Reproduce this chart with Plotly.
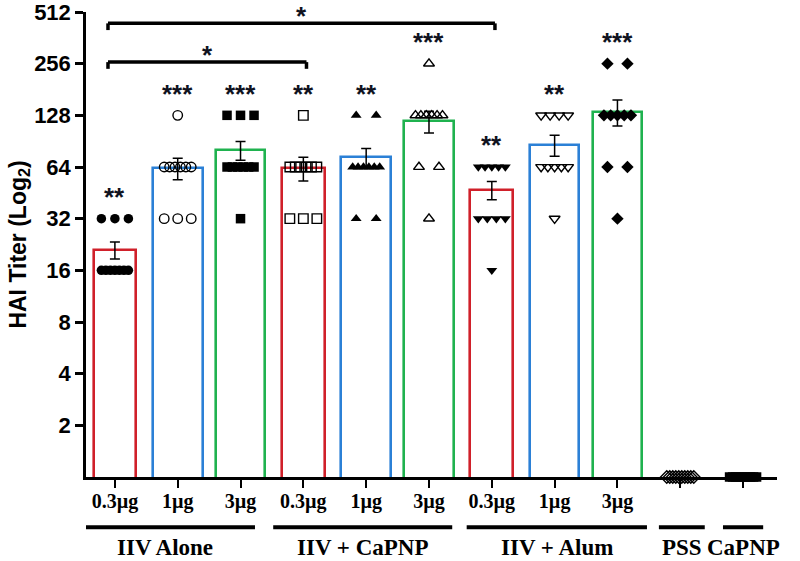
import math
import plotly.graph_objects as go

# doses shown under each bar (PSS / CaPNP have no dose label)
dose_labels = ["0.3µg", "1µg", "3µg", "0.3µg", "1µg", "3µg", "0.3µg", "1µg", "3µg", "", ""]
group_names = ["IIV Alone", "IIV + CaPNP", "IIV + Alum", "PSS", "CaPNP"]

# bar means and SEM, only the 9 vaccine groups have bars
mean_titer = [21, 63, 80, 63, 73, 118, 47, 86, 134]
sem_titer = [2.4, 9, 10, 10, 9, 17, 5.7, 12, 23]
sig_marks = ["**", "***", "***", "**", "**", "***", "**", "**", "***"]

# individual animal titers per column
titers = [
    [32] * 3 + [16] * 7,
    [128] + [64] * 6 + [32] * 3,
    [128] * 3 + [64] * 6 + [32],
    [128] + [64] * 6 + [32] * 3,
    [128] * 2 + [64] * 6 + [32] * 2,
    [256] + [128] * 6 + [64] * 2 + [32],
    [64] * 5 + [32] * 4 + [16],
    [128] * 4 + [64] * 5 + [32],
    [256] * 2 + [128] * 5 + [64] * 2 + [32],
    [1] * 10,
    [1] * 10,
]

# pairwise comparisons: (column a, column b, label, bracket height in log2 units)
comparisons = [(0, 3, "*", 8.03), (0, 6, "*", 8.78)]

# ---- styles ----
red, blue, green = "#d0202a", "#2b80d6", "#1fb24f"
bar_colors = [red, blue, green] * 3
bar_widths = [0.68, 0.79, 0.79] * 3
symbols = ["circle", "circle-open", "square", "square-open", "triangle-up",
           "triangle-up-open", "triangle-down", "triangle-down-open", "diamond",
           "diamond-open", "square"]
px_per_unit = 62.8
star_font = dict(family="Liberation Sans", size=26, color="#10131f")

fig = go.Figure()

fig.add_trace(go.Bar(
    x=list(range(len(mean_titer))),
    y=mean_titer,
    width=bar_widths,
    marker=dict(color="white", line=dict(color=bar_colors, width=2.6)),
    showlegend=False,
))

# spread points with the same value sideways, like a column scatter
for i, vals in enumerate(titers):
    xs, ys = [], []
    for v in sorted(set(vals), reverse=True):
        n = vals.count(v)
        step = min(20, 27 / (n - 1)) if n > 1 else 0
        for k in range(n):
            xs.append(i + (k - (n - 1) / 2) * step / px_per_unit)
            ys.append(v)
    sym = symbols[i]
    fig.add_trace(go.Scatter(
        x=xs, y=ys, mode="markers", cliponaxis=False, showlegend=False,
        marker=dict(symbol=sym, size=9.5, color="black",
                    line=dict(color="black", width=1.4 if "open" in sym else 0)),
    ))

# error bars on top of the points
fig.add_trace(go.Scatter(
    x=list(range(len(mean_titer))), y=mean_titer, mode="markers",
    marker=dict(size=1, color="rgba(0,0,0,0)"), showlegend=False,
    error_y=dict(type="data", array=sem_titer, color="black", thickness=1.5, width=5),
))

# significance stars above each column
for i, s in enumerate(sig_marks):
    top = max(titers[i])
    fig.add_annotation(x=i, y=math.log10(top * 2 ** 0.5), text="<b>%s</b>" % s,
                       showarrow=False, yshift=-4, font=star_font)

# brackets between columns
for a, b, lab, lev in comparisons:
    xl, xr = a - 0.11, b + 0.05
    yt, yb = 2 ** lev, 2 ** (lev - 0.13)
    for x0, x1, y0, y1 in [(xl, xr, yt, yt), (xl, xl, yt, yb), (xr, xr, yt, yb)]:
        fig.add_shape(type="line", xref="x", yref="y", x0=x0, x1=x1, y0=y0, y1=y1,
                      line=dict(color="black", width=3.5))
    fig.add_annotation(x=(xl + xr) / 2, y=math.log10(yt), text="<b>%s</b>" % lab,
                       showarrow=False, yshift=7, font=star_font)

# group underlines and names below the axis
group_spans = [(-0.64, 2.23), (2.52, 5.37), (5.6, 8.47), (8.66, 9.39), (9.68, 10.32)]
for name, (x0, x1) in zip(group_names, group_spans):
    fig.add_shape(type="line", xref="x", yref="paper", x0=x0, x1=x1, y0=-0.108, y1=-0.108,
                  line=dict(color="black", width=4))
    fig.add_annotation(x=(x0 + x1) / 2, y=-0.152, xref="x", yref="paper", text="<b>%s</b>" % name,
                       showarrow=False, yanchor="middle",
                       font=dict(family="Liberation Serif", size=23, color="black"))

yticks = [2 ** k for k in range(1, 10)]
fig.update_layout(
    width=800, height=561,
    margin=dict(l=86, r=23, t=12, b=84),
    plot_bgcolor="white", paper_bgcolor="white",
    bargap=0,
    xaxis=dict(range=[-0.46, 10.54], tickvals=list(range(11)), ticktext=dose_labels,
               automargin=False, ticklabelstandoff=-4,
               showline=True, linecolor="black", linewidth=2.5, ticks="outside",
               ticklen=8, tickwidth=2, tickcolor="black", showgrid=False, zeroline=False,
               tickfont=dict(family="Liberation Serif", size=20, color="black", weight="bold")),
    yaxis=dict(type="log", range=[0, math.log10(512)], tickvals=yticks,
               ticktext=[str(t) for t in yticks], automargin=False, ticklabeloverflow="allow",
               showline=True, linecolor="black", linewidth=2.5, ticks="outside",
               ticklen=8, tickwidth=2.5, tickcolor="black", showgrid=False, zeroline=False,
               tickfont=dict(family="Liberation Sans", size=22, color="black", weight="bold"),
               title=dict(text="HAI Titer (Log<sub>2</sub>)", standoff=2,
                          font=dict(family="Liberation Sans", size=23, color="black", weight="bold"))),
)

# drop the default page margin so the figure sits at the window's corner
fig.write_html("out.html", config={"displayModeBar": False},
               post_script="document.body.style.margin = '0';")
